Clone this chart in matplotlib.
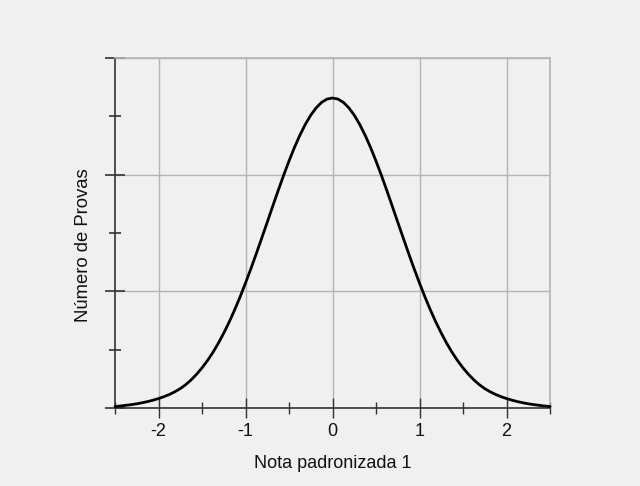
import matplotlib
matplotlib.use("Agg")
import matplotlib.pyplot as plt
from matplotlib.ticker import MultipleLocator, NullFormatter

# Curve values (x = standardized score, y = count in arbitrary units)
x_vals = [-2.5, -2.4375, -2.375, -2.3125, -2.25, -2.1875, -2.125, -2.0625,
          -2.0, -1.9375, -1.875, -1.8125, -1.75, -1.6875, -1.625, -1.5625,
          -1.5, -1.4375, -1.375, -1.3125, -1.25, -1.1875, -1.125, -1.0625,
          -1.0, -0.9375, -0.875, -0.8125, -0.75, -0.6875, -0.625, -0.5625,
          -0.5, -0.4375, -0.375, -0.3125, -0.25, -0.1875, -0.125, -0.0625,
          0.0,
          0.0625, 0.125, 0.1875, 0.25, 0.3125, 0.375, 0.4375, 0.5,
          0.5625, 0.625, 0.6875, 0.75, 0.8125, 0.875, 0.9375, 1.0,
          1.0625, 1.125, 1.1875, 1.25, 1.3125, 1.375, 1.4375, 1.5,
          1.5625, 1.625, 1.6875, 1.75, 1.8125, 1.875, 1.9375, 2.0,
          2.0625, 2.125, 2.1875, 2.25, 2.3125, 2.375, 2.4375, 2.5]
y_vals = [0.013, 0.017, 0.023, 0.029, 0.036, 0.045, 0.055, 0.067,
          0.081, 0.097, 0.116, 0.139, 0.166, 0.200, 0.241, 0.289,
          0.344, 0.406, 0.476, 0.555, 0.642, 0.737, 0.841, 0.952,
          1.071, 1.195, 1.325, 1.458, 1.593, 1.729, 1.863, 1.993,
          2.117, 2.233, 2.338, 2.431, 2.510, 2.573, 2.620, 2.648,
          2.657,
          2.648, 2.620, 2.573, 2.510, 2.431, 2.338, 2.233, 2.117,
          1.993, 1.863, 1.729, 1.593, 1.458, 1.325, 1.195, 1.071,
          0.952, 0.841, 0.737, 0.642, 0.555, 0.476, 0.406, 0.344,
          0.289, 0.241, 0.200, 0.166, 0.139, 0.116, 0.097, 0.081,
          0.067, 0.055, 0.045, 0.036, 0.029, 0.023, 0.017, 0.013]

x_ticks = [-2, -1, 0, 1, 2]
x_tick_labels = ["-2", "-1", "0", "1", "2"]
y_ticks = [0, 1, 2, 3]

x_label = "Nota padronizada 1"
y_label = "Número de Provas"

plt.rcParams['font.family'] = ['Liberation Sans', 'DejaVu Sans']

bg = '#f0f0f0'
fig = plt.figure(figsize=(6.4, 4.86), dpi=100, facecolor=bg)
ax = fig.add_axes([115/640, 1-408/486, 435/640, 350/486], facecolor=bg)

ax.plot(x_vals, y_vals, color='black', lw=2.0, solid_capstyle='round',
        solid_joinstyle='round', zorder=3, clip_on=False)

ax.set_xlim(-2.5, 2.5)
ax.set_ylim(0, 3)
ax.set_xticks(x_ticks)
ax.set_xticklabels(x_tick_labels)
ax.xaxis.set_minor_locator(MultipleLocator(0.5))
ax.set_yticks(y_ticks)
ax.yaxis.set_major_formatter(NullFormatter())
ax.yaxis.set_minor_locator(MultipleLocator(0.5))

ax.grid(True, which='major', color='#b4b4b4', lw=1.0)
ax.set_axisbelow(True)

ax.tick_params(axis='x', which='major', direction='inout', length=15, width=1, color='#333333',
               labelsize=13, pad=3, labelcolor='#111111')
ax.tick_params(axis='x', which='minor', direction='inout', length=8, width=1, color='#333333')
ax.tick_params(axis='y', which='major', direction='inout', length=14, width=1.2, color='#333333')
ax.tick_params(axis='y', which='minor', direction='inout', length=8, width=1.2, color='#333333')

for s in ['top', 'right']:
    ax.spines[s].set_color('#b4b4b4')
    ax.spines[s].set_linewidth(1.2)
for s in ['left', 'bottom']:
    ax.spines[s].set_color('#333333')
    ax.spines[s].set_linewidth(1.2)

ax.set_xlabel(x_label, fontsize=13, color='#111111')
ax.set_ylabel(y_label, fontsize=13.3, color='#111111')
ax.xaxis.set_label_coords((332.5 - 115) / 435, -(463 - 408) / 350)
ax.yaxis.set_label_coords(-(115 - 84) / 435, (408 - 245) / 350)
ax.xaxis.label.set_va('center')
ax.yaxis.label.set_va('center')

fig.savefig("out.png", dpi=100, facecolor=bg)
